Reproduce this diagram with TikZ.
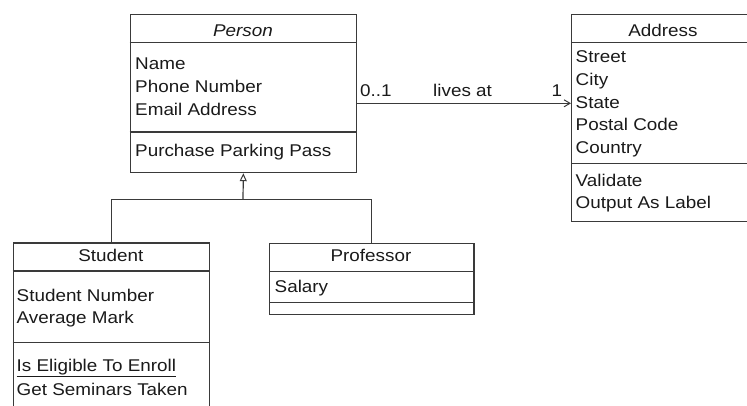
\documentclass[tikz,border=0pt]{standalone}
\usepackage{fontspec}
\setmainfont[FakeStretch=1.11]{Liberation Sans}
\usetikzlibrary{arrows.meta}
\definecolor{ln}{HTML}{3A3A3A}
\definecolor{tx}{HTML}{1A1A1A}
\tikzset{
  box/.style={draw=ln, line width=1.2pt, rectangle, inner sep=0pt, anchor=north west},
  sep/.style={draw=ln, line width=1.2pt},
  txt/.style={anchor=base west, inner sep=0pt, text=tx, font=\fontsize{17}{20}\selectfont},
  ttl/.style={anchor=base, inner sep=0pt, text=tx, font=\fontsize{17}{20}\selectfont},
  conn/.style={draw=ln, line width=1.2pt},
}
\begin{document}
\begin{tikzpicture}[x=1pt,y=-1pt]
\useasboundingbox (0,0) rectangle (747,405);
\clip (0,0) rectangle (747,405);
% Person
\node[box, minimum width=226.5pt, minimum height=158pt] (person) at (129.5,14) {};
\draw[sep] (129.5,42.3) -- (356,42.3);
\draw[sep] (129.5,132) -- (356,132);
\node[ttl, font=\fontsize{17}{20}\selectfont\itshape] (personT) at (243,36.7) {Person};
\node[txt] (p1) at (135,69.3) {Name};
\node[txt] (p2) at (135,92.5) {Phone Number};
\node[txt] (p3) at (135,115) {Email Address};
\node[txt] (p4) at (135,156.5) {Purchase Parking Pass};
% Address
\node[box, minimum width=190pt, minimum height=207pt] (address) at (571,14) {};
\draw[sep] (571,42.3) -- (761,42.3);
\draw[sep] (571,163.3) -- (761,163.3);
\node[ttl] (addressT) at (663,36.7) {Address};
\node[txt] (a1) at (575.5,62.8) {Street};
\node[txt] (a2) at (575.5,85.4) {City};
\node[txt] (a3) at (575.5,108) {State};
\node[txt] (a4) at (575.5,130.8) {Postal Code};
\node[txt] (a5) at (575.5,153.4) {Country};
\node[txt] (a6) at (575.5,186) {Validate};
\node[txt] (a7) at (575.5,208) {Output As Label};
% Student
\node[box, minimum width=196.3pt, minimum height=200pt] (student) at (12.7,242.3) {};
\draw[sep] (12.7,271) -- (209,271);
\draw[sep] (12.7,342.7) -- (209,342.7);
\node[ttl] (studentT) at (110.8,261.7) {Student};
\node[txt] (s1) at (16.5,301) {Student Number};
\node[txt] (s2) at (16.5,323.7) {Average Mark};
\node[txt] (s3) at (16.5,371.5) {\underline{Is Eligible To Enroll}};
\node[txt] (s4) at (16.5,395) {Get Seminars Taken};
% Professor
\node[box, minimum width=204.3pt, minimum height=71.5pt] (professor) at (269,242.5) {};
\draw[sep] (269,271.3) -- (473.3,271.3);
\draw[sep] (269,302.7) -- (473.3,302.7);
\node[ttl] (professorT) at (371,261.7) {Professor};
\node[txt] (r1) at (274.5,292.7) {Salary};
% generalization
\coordinate (j) at (243,199.3);
\draw[conn] (student.north) |- (j) -| (professor.north);
\draw[conn, -{Triangle[open, length=8pt, width=7pt, line width=1pt]}] (j) -- (person.south);
% association
\coordinate (as) at (356,103.3);
\draw[conn, -{Straight Barb[length=6pt, width=7pt, line width=1pt]}] (person.east |- as) -- (address.west |- as);
\node[txt] (m1) at (360,96) {0..1};
\node[txt] (m2) at (433,96) {lives at};
\node[txt] (m3) at (551.5,96) {1};
\end{tikzpicture}
\end{document}
